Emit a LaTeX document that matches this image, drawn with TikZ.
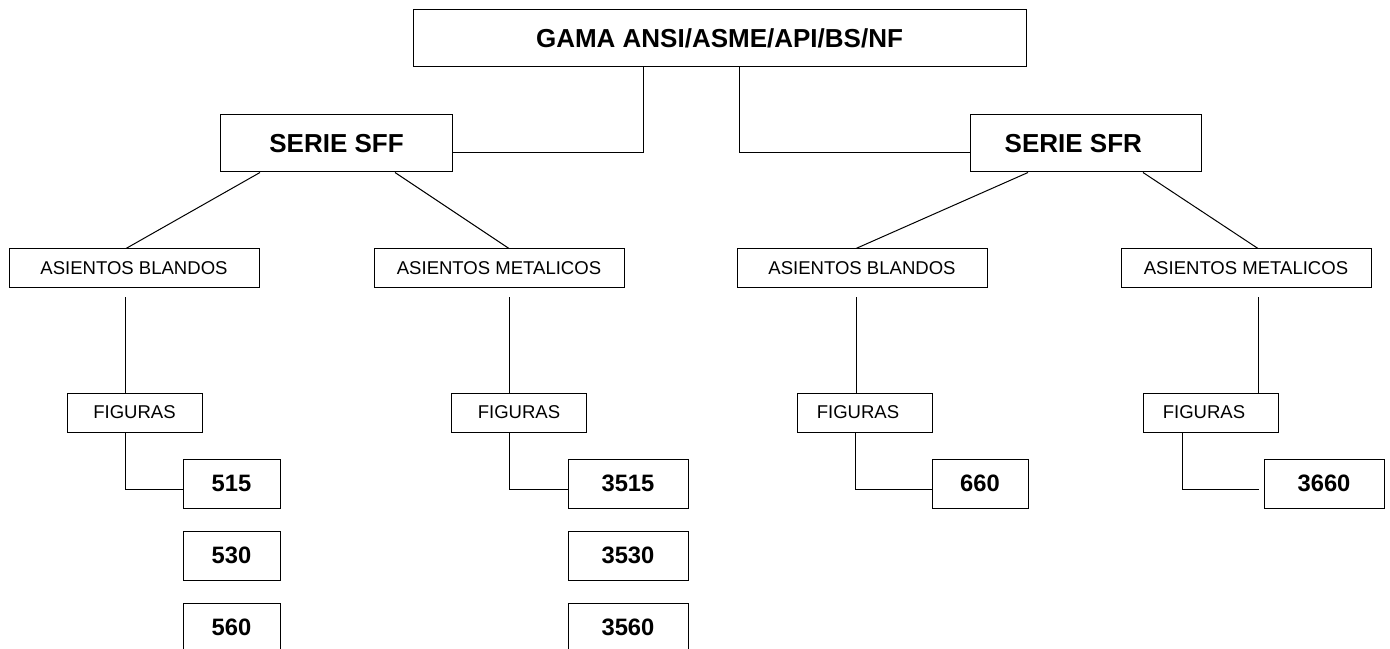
\documentclass[tikz,border=0pt]{standalone}
\usepackage{fontspec}
\setmainfont{Liberation Sans}
\begin{document}
\begin{tikzpicture}[x=0.75pt,y=0.75pt,yscale=-1,xscale=1,
  box/.style={draw, line width=0.75pt, inner sep=0pt, align=center},
  gamabox/.style={box, minimum width=459.75pt, minimum height=42.75pt, font=\bfseries\fontsize{19.5}{23}\selectfont},
  seriebox/.style={box, minimum width=173.5pt, minimum height=42.75pt, font=\bfseries\fontsize{19.5}{23}\selectfont},
  asientobox/.style={box, minimum width=187.5pt, minimum height=29.25pt, font=\fontsize{13.9}{16}\selectfont},
  figurabox/.style={box, minimum width=101.25pt, minimum height=29.25pt, font=\fontsize{13.9}{16}\selectfont},
  numbox/.style={box, minimum height=36.75pt, font=\bfseries\fontsize{17.8}{21}\selectfont},
  wire/.style={line width=0.75pt},
  gapwire/.style={wire, shorten <=6.75pt}]
\useasboundingbox (0,0) rectangle (1390,649);

%Top level
\node[gamabox] (gama) at (719.5,38.5) {GAMA ANSI/ASME/API/BS/NF};
\node[seriebox] (sff) at (336.5,143.5) {SERIE SFF};
\node[seriebox] (sfr) at (1086,143.5) {SERIE SFR\hspace{19pt}};

%Seats
\node[asientobox] (ab1) at (134,268.5) {ASIENTOS BLANDOS};
\node[asientobox] (am1) at (499,268.5) {ASIENTOS METALICOS};
\node[asientobox] (ab2) at (862,268.5) {ASIENTOS BLANDOS};
\node[asientobox] (am2) at (1246,268.5) {ASIENTOS METALICOS};

%Figures
\node[figurabox] (fig1) at (134.5,412.5) {FIGURAS};
\node[figurabox] (fig2) at (519,412.5) {FIGURAS};
\node[figurabox] (fig3) at (864.5,412.5) {FIGURAS\hspace{9.75pt}};
\node[figurabox] (fig4) at (1210.5,412.5) {FIGURAS\hspace{9.75pt}};

%Figure numbers
\node[numbox, minimum width=72.75pt] (n515) at (231.5,483.5) {515};
\node[numbox, minimum width=72.75pt] (n530) at (231.5,555.5) {530};
\node[numbox, minimum width=72.75pt] (n560) at (231.5,627.5) {560};
\node[numbox, minimum width=90pt] (n3515) at (628,483.5) {3515};
\node[numbox, minimum width=90pt] (n3530) at (628,555.5) {3530};
\node[numbox, minimum width=90pt] (n3560) at (628,627.5) {3560};
\node[numbox, minimum width=72pt] (n660) at (980,483.5) {660};
\node[numbox, minimum width=90pt] (n3660) at (1324,483.5) {3660};

%Connectors
\draw[wire] (gama.south -| 643,0) |- (sff.east |- 0,153);
\draw[wire] (gama.south -| 739,0) |- (sfr.west |- 0,153);

\draw[wire] (sff.south -| 260,0) -- (ab1.north -| 126,0);
\draw[wire] (sff.south -| 395,0) -- (am1.north -| 509,0);
\draw[wire] (sfr.south -| 1028,0) -- (ab2.north -| 856,0);
\draw[wire] (sfr.south -| 1143,0) -- (am2.north -| 1258,0);

\draw[gapwire] (ab1.south -| 125,0) -- (fig1.north -| 125,0);
\draw[gapwire] (am1.south -| 509,0) -- (fig2.north -| 509,0);
\draw[gapwire] (ab2.south -| 856,0) -- (fig3.north -| 856,0);
\draw[gapwire] (am2.south -| 1258,0) -- (fig4.north -| 1258,0);

\draw[wire] (fig1.south -| 125,0) |- (n515.west |- 0,489);
\draw[wire] (fig2.south -| 509,0) |- (n3515.west |- 0,489);
\draw[wire] (fig3.south -| 855,0) |- (n660.west |- 0,489);
\draw[wire, shorten >=3.75pt] (fig4.south -| 1182,0) |- (n3660.west |- 0,489);

\end{tikzpicture}
\end{document}
